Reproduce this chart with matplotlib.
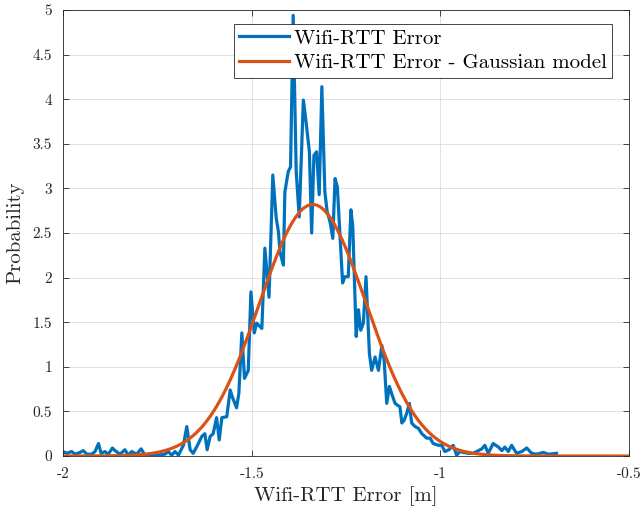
import numpy as np
import matplotlib
matplotlib.use("Agg")
import matplotlib.pyplot as plt

plt.rcParams["font.family"] = "cmr10"
plt.rcParams["mathtext.fontset"] = "cm"
plt.rcParams["axes.unicode_minus"] = False

err_x = [-2.000, -1.990, -1.977, -1.968, -1.955, -1.946, -1.937, -1.924, -1.915, -1.906,
         -1.899, -1.889, -1.880, -1.869, -1.862, -1.849, -1.836, -1.827, -1.818, -1.805,
         -1.793, -1.783, -1.765, -1.747, -1.730, -1.721, -1.712, -1.703, -1.694, -1.681,
         -1.672, -1.663, -1.655, -1.646, -1.632, -1.624, -1.618, -1.610, -1.602, -1.593,
         -1.586, -1.579, -1.566, -1.557, -1.551, -1.540, -1.534, -1.526, -1.519, -1.509,
         -1.502, -1.493, -1.487, -1.473, -1.465, -1.454, -1.444, -1.435, -1.429, -1.425,
         -1.416, -1.412, -1.403, -1.397, -1.390, -1.382, -1.374, -1.363, -1.356, -1.347,
         -1.341, -1.335, -1.328, -1.321, -1.314, -1.306, -1.300, -1.292, -1.285, -1.279,
         -1.273, -1.259, -1.253, -1.244, -1.237, -1.232, -1.223, -1.217, -1.211, -1.204,
         -1.197, -1.188, -1.182, -1.173, -1.164, -1.155, -1.149, -1.142, -1.135, -1.129,
         -1.120, -1.107, -1.102, -1.096, -1.089, -1.082, -1.076, -1.067, -1.058, -1.049,
         -1.036, -1.027, -1.019, -1.005, -0.996, -0.988, -0.977, -0.966, -0.957, -0.948,
         -0.939, -0.926, -0.913, -0.899, -0.890, -0.882, -0.873, -0.860, -0.846, -0.837,
         -0.829, -0.820, -0.811, -0.798, -0.784, -0.771, -0.758, -0.745, -0.727, -0.714,
         -0.692]
err_p = [0.05, 0.03, 0.05, 0.02, 0.04, 0.06, 0.02, 0.02, 0.05, 0.14,
         0.03, 0.05, 0.02, 0.09, 0.06, 0.02, 0.07, 0.01, 0.05, 0.02,
         0.08, 0.01, 0.01, 0.01, 0.02, 0.05, 0.01, 0.05, 0.01, 0.12,
         0.33, 0.07, 0.03, 0.10, 0.22, 0.25, 0.07, 0.22, 0.25, 0.43,
         0.18, 0.43, 0.44, 0.74, 0.66, 0.54, 0.70, 1.38, 0.87, 0.96,
         1.84, 1.38, 1.49, 1.43, 2.33, 1.78, 3.15, 2.67, 2.51, 2.29,
         2.14, 2.96, 3.19, 3.24, 4.94, 3.19, 2.68, 3.99, 3.75, 3.41,
         2.50, 3.37, 3.41, 2.93, 4.14, 2.96, 2.74, 2.62, 2.44, 3.11,
         3.02, 1.94, 2.01, 2.01, 2.76, 2.57, 1.34, 1.64, 1.41, 1.49,
         2.01, 1.15, 0.96, 1.11, 0.96, 1.24, 1.08, 0.59, 0.78, 0.70,
         0.59, 0.55, 0.37, 0.40, 0.48, 0.59, 0.37, 0.33, 0.31, 0.25,
         0.20, 0.20, 0.14, 0.12, 0.12, 0.05, 0.07, 0.12, 0.01, 0.05,
         0.04, 0.03, 0.03, 0.06, 0.08, 0.12, 0.03, 0.14, 0.10, 0.06,
         0.10, 0.05, 0.12, 0.03, 0.05, 0.09, 0.03, 0.02, 0.04, 0.02,
         0.03]

# gaussian model parameters
mu = -1.338
sigma = 0.1415

x_ticks = [-2, -1.5, -1, -0.5]
x_labels = ["-2", "-1.5", "-1", "-0.5"]
y_ticks = [0, 0.5, 1, 1.5, 2, 2.5, 3, 3.5, 4, 4.5, 5]
y_labels = ["0", "0.5", "1", "1.5", "2", "2.5", "3", "3.5", "4", "4.5", "5"]

xs = np.linspace(-2, -0.5, 400)
model = np.exp(-0.5 * ((xs - mu) / sigma) ** 2) / (sigma * np.sqrt(2 * np.pi))

fig = plt.figure(figsize=(6.42, 5.12), dpi=100)
ax = fig.add_axes([63 / 642, 56 / 512, 566 / 642, 446 / 512])

ax.plot(err_x, err_p, color="#0072BD", lw=2.3, label="Wifi-RTT Error")
ax.plot(xs, model, color="#D95319", lw=2.3, label="Wifi-RTT Error - Gaussian model")

ax.set_xlim(-2, -0.5)
ax.set_ylim(0, 5)
ax.set_xticks(x_ticks)
ax.set_xticklabels(x_labels)
ax.set_yticks(y_ticks)
ax.set_yticklabels(y_labels)
ax.tick_params(direction="in", top=True, right=True, length=4, width=0.6,
               labelsize=11, colors="#262626", pad=8)
ax.grid(True, color="#dcdcdc", lw=0.6)
ax.set_axisbelow(True)
for s in ax.spines.values():
    s.set_color("#262626")
    s.set_linewidth(0.6)

ax.set_xlabel("Wifi-RTT Error [m]", fontsize=15, color="#262626", labelpad=4)
ax.set_ylabel("Probability", fontsize=15, color="#262626", labelpad=6)

leg = ax.legend(loc="upper right", bbox_to_anchor=(0.970, 0.969), borderaxespad=0,
                fontsize=15, frameon=True, fancybox=False, handlelength=2.4,
                handletextpad=0.25, borderpad=0.25, labelspacing=0.3)
leg.get_frame().set_edgecolor("#262626")
leg.get_frame().set_linewidth(0.6)
leg.get_frame().set_alpha(1)

fig.savefig("out.png", dpi=100)
